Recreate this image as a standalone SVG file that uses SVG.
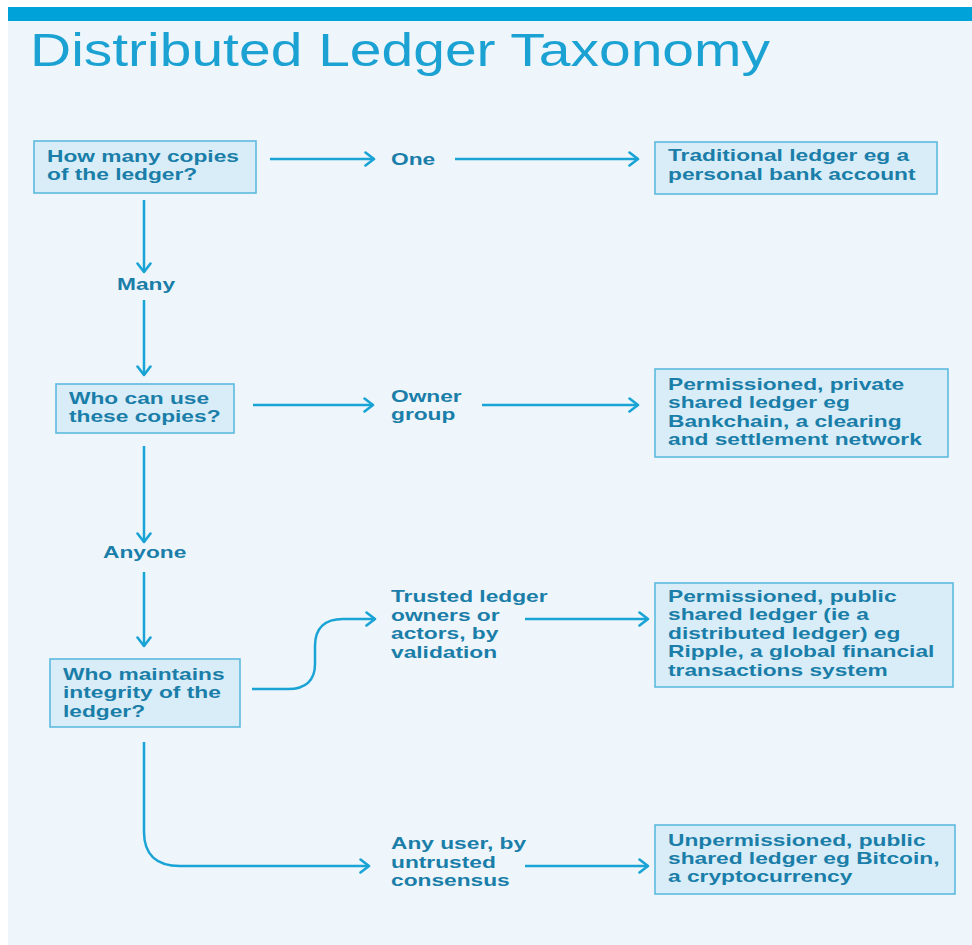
<svg xmlns="http://www.w3.org/2000/svg" width="972" height="945" viewBox="0 0 972 945">
<style>
.t{font-family:"Liberation Sans",Arial,Helvetica,sans-serif;font-weight:bold;font-size:16.6px;fill:#1a7ea9;}
.box{fill:#d8edf8;stroke:#5eb9df;stroke-width:1.6;}
.ln{fill:none;stroke:#1aa3d5;stroke-width:2.5;}
.title{font-family:"Liberation Sans",Arial,Helvetica,sans-serif;font-size:46px;fill:#1ba2d3;}
</style>
<defs>
<marker id="ah" viewBox="0 0 12 16" refX="10.5" refY="8" markerWidth="12" markerHeight="16" markerUnits="userSpaceOnUse" orient="auto">
<path d="M2,1.5 L10.5,8 L2,14.5" fill="none" stroke="#1aa3d5" stroke-width="2.6" stroke-linecap="round" stroke-linejoin="round"/>
</marker>
<linearGradient id="bg" x1="0" y1="0" x2="0" y2="1">
<stop offset="0" stop-color="#dcf0fa"/><stop offset="1" stop-color="#d3eaf7"/>
</linearGradient>
</defs>
<rect x="0" y="0" width="972" height="945" fill="#ffffff"/>
<rect x="8" y="7" width="964" height="938" fill="#eef6fc"/>
<rect x="8" y="7" width="964" height="14" fill="#00a3d9"/>
<text class="title" x="30" y="66" textLength="740" lengthAdjust="spacingAndGlyphs">Distributed Ledger Taxonomy</text>

<g id="connectors">
<path class="ln" d="M270,159 H374" marker-end="url(#ah)"/>
<path class="ln" d="M455,159 H638" marker-end="url(#ah)"/>
<path class="ln" d="M144,200 V272" marker-end="url(#ah)"/>
<path class="ln" d="M144,300 V375" marker-end="url(#ah)"/>
<path class="ln" d="M253,405 H373" marker-end="url(#ah)"/>
<path class="ln" d="M482,405 H638" marker-end="url(#ah)"/>
<path class="ln" d="M144,446 V542" marker-end="url(#ah)"/>
<path class="ln" d="M144,572 V646" marker-end="url(#ah)"/>
<path class="ln" d="M252,689 H288 C306,689 315,680 315,664 V646 C315,628 325,619 343,619 H375" marker-end="url(#ah)"/>
<path class="ln" d="M525,619 H648" marker-end="url(#ah)"/>
<path class="ln" d="M144,742 V832 C144,854 156,866 180,866 H369" marker-end="url(#ah)"/>
<path class="ln" d="M525,866 H648" marker-end="url(#ah)"/>
</g>

<g id="q1">
<rect class="box" x="34" y="141" width="222" height="52" fill="url(#bg)"/>
<text class="t" transform="translate(47,162) scale(1.37,1)"><tspan x="0" y="0">How many copies</tspan><tspan x="0" y="18.5">of the ledger?</tspan></text>
</g>
<g id="one"><text class="t" transform="translate(391,165) scale(1.37,1)">One</text></g>
<g id="r1">
<rect class="box" x="655" y="142" width="282" height="52"/>
<text class="t" transform="translate(668,161) scale(1.37,1)"><tspan x="0" y="0">Traditional ledger eg a</tspan><tspan x="0" y="19">personal bank account</tspan></text>
</g>
<g id="many"><text class="t" transform="translate(117,290) scale(1.37,1)">Many</text></g>
<g id="q2">
<rect class="box" x="56" y="384" width="178" height="49"/>
<text class="t" transform="translate(69,404) scale(1.37,1)"><tspan x="0" y="0">Who can use</tspan><tspan x="0" y="18.5">these copies?</tspan></text>
</g>
<g id="owner"><text class="t" transform="translate(391,402) scale(1.37,1)"><tspan x="0" y="0">Owner</tspan><tspan x="0" y="18.5">group</tspan></text></g>
<g id="r2">
<rect class="box" x="655" y="369" width="293" height="88"/>
<text class="t" transform="translate(668,390) scale(1.37,1)"><tspan x="0" y="0">Permissioned, private</tspan><tspan x="0" y="18.5">shared ledger eg</tspan><tspan x="0" y="37">Bankchain, a clearing</tspan><tspan x="0" y="55.5">and settlement network</tspan></text>
</g>
<g id="anyone"><text class="t" transform="translate(103,558) scale(1.37,1)">Anyone</text></g>
<g id="q3">
<rect class="box" x="50" y="659" width="190" height="68"/>
<text class="t" transform="translate(63,680) scale(1.37,1)"><tspan x="0" y="0">Who maintains</tspan><tspan x="0" y="18.5">integrity of the</tspan><tspan x="0" y="37">ledger?</tspan></text>
</g>
<g id="trusted"><text class="t" transform="translate(391,602) scale(1.37,1)"><tspan x="0" y="0">Trusted ledger</tspan><tspan x="0" y="18.7">owners or</tspan><tspan x="0" y="37.4">actors, by</tspan><tspan x="0" y="56.1">validation</tspan></text></g>
<g id="r3">
<rect class="box" x="655" y="583" width="298" height="104"/>
<text class="t" transform="translate(668,602) scale(1.37,1)"><tspan x="0" y="0">Permissioned, public</tspan><tspan x="0" y="18.5">shared ledger (ie a</tspan><tspan x="0" y="37">distributed ledger) eg</tspan><tspan x="0" y="55.5">Ripple, a global financial</tspan><tspan x="0" y="74">transactions system</tspan></text>
</g>
<g id="anyuser"><text class="t" transform="translate(391,849) scale(1.37,1)"><tspan x="0" y="0">Any user, by</tspan><tspan x="0" y="18.7">untrusted</tspan><tspan x="0" y="37.4">consensus</tspan></text></g>
<g id="r4">
<rect class="box" x="655" y="825" width="300" height="69"/>
<text class="t" transform="translate(668,846) scale(1.37,1)"><tspan x="0" y="0">Unpermissioned, public</tspan><tspan x="0" y="18">shared ledger eg Bitcoin,</tspan><tspan x="0" y="36">a cryptocurrency</tspan></text>
</g>
</svg>
